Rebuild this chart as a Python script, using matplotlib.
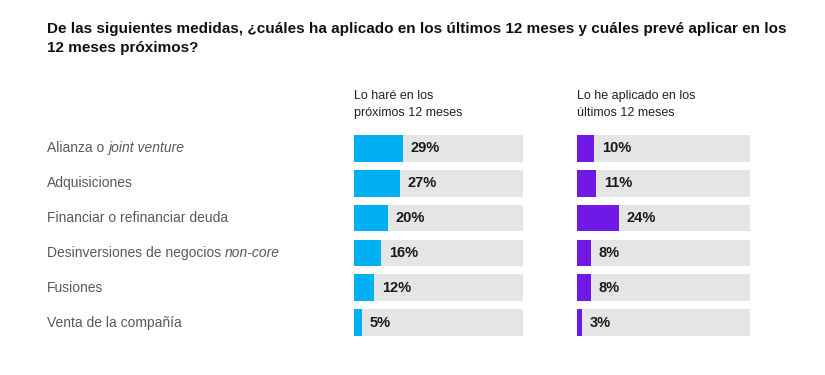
import matplotlib.pyplot as plt
from matplotlib.transforms import blended_transform_factory

# data
categories = ["Alianza o ", "Adquisiciones", "Financiar o refinanciar deuda",
              "Desinversiones de negocios ", "Fusiones", "Venta de la compañía"]
italic_parts = ["joint venture", "", "", "non-core", "", ""]
proximos = [29, 27, 20, 16, 12, 5]
ultimos = [10, 11, 24, 8, 8, 3]
headers = ["Lo haré en los\npróximos 12 meses", "Lo he aplicado en los\núltimos 12 meses"]
title = ("De las siguientes medidas, ¿cuáles ha aplicado en los últimos 12 meses y cuáles prevé aplicar en los\n"
         "12 meses próximos?")

blue = "#00B0F0"
purple = "#7018E6"
track = "#E5E5E5"
label_col = "#595959"

plt.rcParams['font.family'] = ['Liberation Sans', 'DejaVu Sans']

W, H = 825, 375
fig = plt.figure(figsize=(W / 100, H / 100), dpi=100)

def px_axes(x0, x1, y0, y1):
    return fig.add_axes([x0 / W, 1 - y1 / H, (x1 - x0) / W, (y1 - y0) / H])

ax1 = px_axes(354, 523, 135, 336)
ax2 = px_axes(577, 750, 135, 336)

ypos = list(range(len(categories)))
for ax, vals, col, hdr in [(ax1, proximos, blue, headers[0]), (ax2, ultimos, purple, headers[1])]:
    ax.barh(ypos, [100] * len(vals), height=0.77, color=track, edgecolor='none')
    ax.barh(ypos, vals, height=0.77, color=col, edgecolor='none')
    for y, v in zip(ypos, vals):
        ax.text(v + 4.5, y, f"{v}%", va='center', ha='left', fontsize=10.5,
                fontweight='bold', color='#1a1a1a')
    ax.set_xlim(0, 100)
    ax.set_ylim(5.385, -0.385)
    ax.axis('off')
    ax.text(0, 1.0 + 45 / 201, hdr, transform=ax.transAxes, ha='left', va='top',
            fontsize=9, color='#222222', linespacing=1.6)

# category labels
tr = blended_transform_factory(fig.transFigure, ax1.transData)
for y, cat, it in zip(ypos, categories, italic_parts):
    t = fig.text(47 / W, y, cat, transform=tr, va='center', ha='left',
                 fontsize=10, color=label_col)
    if it:
        ax1.annotate(it, xy=(1, 0), xycoords=t, ha='left', va='bottom',
                     fontsize=10, color=label_col, style='italic')

fig.text(47 / W, 1 - 22 / H, title, ha='left', va='top', fontsize=11,
         fontweight='bold', color='#111111', linespacing=1.45)

fig.savefig("out.png", dpi=100, facecolor='white')
